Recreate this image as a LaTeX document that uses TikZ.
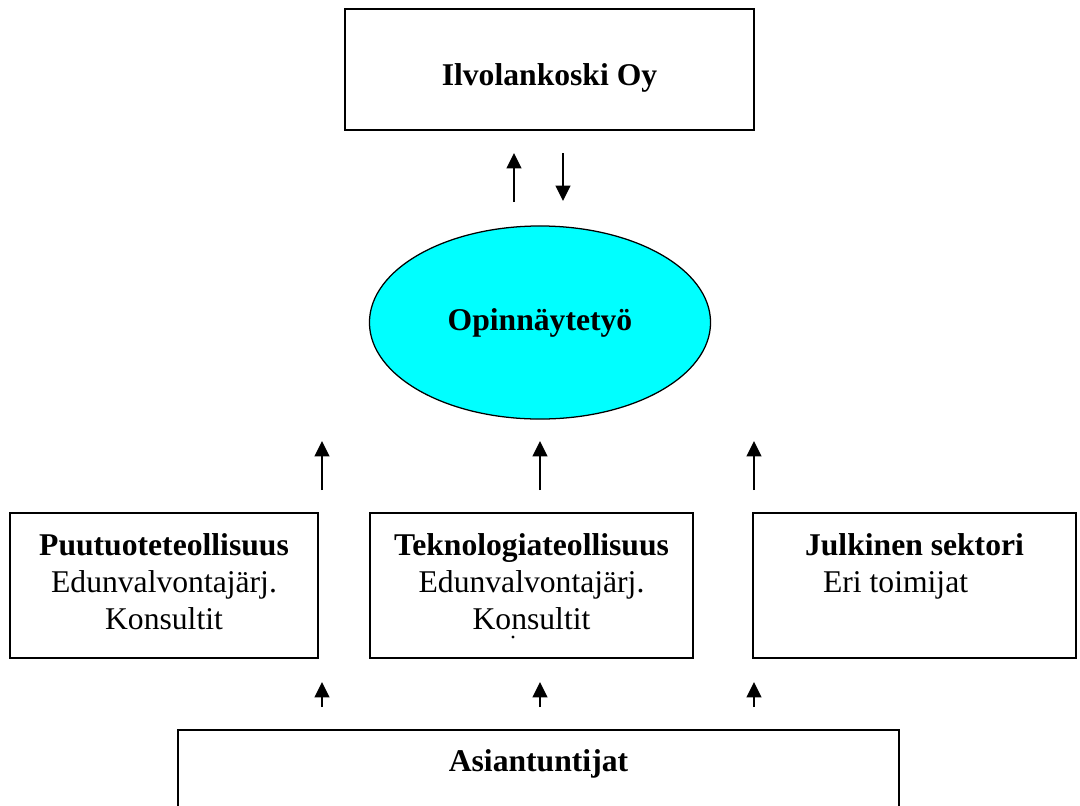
\documentclass[tikz,border=0pt]{standalone}
\usepackage{fontspec}
\setmainfont{Liberation Serif}
\usetikzlibrary{arrows.meta,shapes.geometric}
\definecolor{ellipsi}{RGB}{0,255,255}

\begin{document}
\begin{tikzpicture}[x=0.025cm, y=-0.025cm,
    box/.style={rectangle, draw, line width=1.3pt, inner sep=0pt},
    boxtext/.style={anchor=north, inner sep=0pt, align=center, yshift=-15.4pt, font=\fontsize{22.5}{26}\selectfont},
    arr/.style={-{Triangle[length=11pt, width=10.5pt]}, line width=1.5pt}]
    \useasboundingbox (0,0) rectangle (1080,805);

    \node[box, minimum width=10.225cm, minimum height=3.025cm, label={[boxtext, yshift=-24pt]north:\textbf{Ilvolankoski Oy}}] (yritys) at (549.5,69.5) {};
    \node[ellipse, draw, fill=ellipsi, line width=0.9pt, inner sep=0pt, minimum width=8.525cm, minimum height=4.825cm, font=\fontsize{22.5}{26}\selectfont\bfseries] (opinnayte) at (540,322.5) {Opinnäytetyö};

    \node[box, minimum width=7.7cm, minimum height=3.625cm, label={[boxtext]north:{\textbf{Puutuoteteollisuus}\\Edunvalvontajärj.\\Konsultit}}] (puu) at (164,585.5) {};
    \node[box, minimum width=8.075cm, minimum height=3.625cm, label={[boxtext]north:{\textbf{Teknologiateollisuus}\\Edunvalvontajärj.\\Konsultit}}] (tekno) at (531.5,585.5) {};
    \node[box, minimum width=8.075cm, minimum height=3.625cm, label={[boxtext, align=left]north:{\textbf{Julkinen sektori}\\\hspace*{12.8pt}Eri toimijat}}] (julkinen) at (914.5,585.5) {};
    \fill (513,637) circle (1.1pt);

    \node[box, minimum width=18.025cm, minimum height=3.75cm, anchor=north, label={[boxtext, yshift=1.2pt]north:\textbf{Asiantuntijat}}] (asiantuntijat) at (538.5,729) {};

    % arrows between the levels
    \coordinate (ylos1) at (514,202);  \coordinate (ylos2) at (514,153);
    \coordinate (alas1) at (563,153);  \coordinate (alas2) at (563,201);
    \draw[arr] (ylos1) -- (ylos2);
    \draw[arr] (alas1) -- (alas2);

    \coordinate (puu1) at (322,490);   \coordinate (puu2) at (322,441);
    \coordinate (tek1) at (540,490);   \coordinate (tek2) at (540,441);
    \coordinate (jul1) at (754,490);   \coordinate (jul2) at (754,441);
    \draw[arr] (puu1) -- (puu2);
    \draw[arr] (tek1) -- (tek2);
    \draw[arr] (jul1) -- (jul2);

    \coordinate (asi1) at (322,707);   \coordinate (asi2) at (322,682);
    \coordinate (asi3) at (540,707);   \coordinate (asi4) at (540,682);
    \coordinate (asi5) at (754,707);   \coordinate (asi6) at (754,682);
    \draw[arr] (asi1) -- (asi2);
    \draw[arr] (asi3) -- (asi4);
    \draw[arr] (asi5) -- (asi6);
\end{tikzpicture}
\end{document}
